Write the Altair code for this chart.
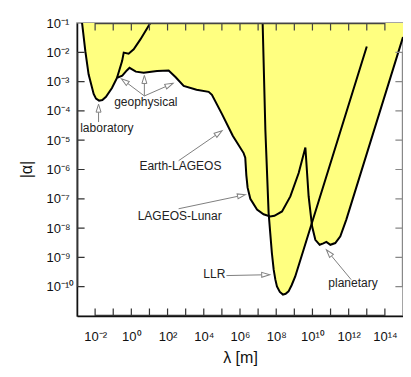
import math
import json
import altair as alt
import pandas as pd

# ---------------- data (log10 values) ----------------
W, H = 326, 293
X_DOM = (-3, 15)     # log10 lambda [m]
Y_DOM = (-11, -1)    # log10 |alpha|

env_lam = [-2.72, -2.54, -2.36, -2.08, -1.95, -1.78, -1.60, -1.40, -1.07, -0.79,
           -0.50, -0.25, -0.10, 0.25, 0.68, 1.10, 1.42, 2.06, 2.45, 2.89,
           3.60, 4.27, 4.45, 5.00, 5.60, 6.20, 6.29, 6.35, 6.42, 6.57,
           6.94, 7.30, 7.67, 7.90, 8.32, 8.78, 9.24, 9.61, 9.79, 9.98,
           10.16, 10.40, 10.60, 10.77, 10.99, 11.26, 11.54, 11.87, 15.0]
env_alpha = [-1.0, -1.96, -2.75, -3.42, -3.58, -3.65, -3.63, -3.52, -3.22, -2.87,
             -2.80, -2.62, -2.53, -2.66, -2.70, -2.66, -2.64, -2.62, -2.85, -3.15,
             -3.28, -3.35, -3.45, -4.10, -4.85, -5.44, -5.60, -6.20, -6.62, -7.00,
             -7.37, -7.53, -7.60, -7.58, -7.43, -6.92, -6.12, -5.25, -6.92, -7.94,
             -8.40, -8.57, -8.52, -8.47, -8.57, -8.51, -8.28, -7.71, -1.48]

lab_lam = [-0.79, -0.51, -0.42, -0.15, 0.13, 0.50, 1.05]
lab_alpha = [-2.87, -2.30, -2.01, -2.05, -1.90, -1.56, -1.0]

llr_lam = [7.25, 7.40, 7.58, 7.67, 7.76, 7.86, 7.95, 8.04, 8.20, 8.37,
           8.52, 8.68, 8.85, 9.05, 9.51, 13.0]
llr_alpha = [-1.0, -4.64, -7.48, -8.17, -8.85, -9.42, -9.75, -9.99, -10.18, -10.27,
             -10.24, -10.16, -9.95, -9.65, -8.74, -1.80]

label_text = ["laboratory", "geophysical", "Earth-LAGEOS", "LAGEOS-Lunar", "LLR", "planetary"]
label_lam = [-1.35, 0.80, 2.71, 2.67, 4.58, 12.24]
label_alpha = [-4.59, -3.71, -5.87, -7.58, -9.58, -9.88]

arrow_tail_lam = [-1.81, 0.72, 0.72, 0.72, 2.61, 2.61, 5.25, 12.14]
arrow_tail_alpha = [-4.38, -3.49, -3.49, -3.49, -5.70, -7.34, -9.62, -9.76]
arrow_tip_lam = [-1.81, -0.55, 0.72, 2.30, 5.01, 6.30, 7.64, 10.77]
arrow_tip_alpha = [-3.77, -2.90, -2.79, -3.06, -4.68, -6.86, -9.59, -8.74]

x_tick_exp = list(range(-2, 15))
y_tick_exp = list(range(-10, -1))
x_label_exp = list(range(-2, 15, 2))
y_label_exp = list(range(-10, 0))

# ---------------- helpers ----------------
SUP = str.maketrans("-0123456789", "⁻⁰¹²³⁴⁵⁶⁷⁸⁹")


def pow_label(e):
    return "10" + str(e).translate(SUP)


all_labels = json.dumps([pow_label(e) for e in range(-12, 17)], ensure_ascii=False)
label_expr = all_labels + "[round(log(datum.value)/LN10)+12]"

FONT = "Liberation Sans"
x_scale = alt.Scale(type="log", domain=[10.0 ** X_DOM[0], 10.0 ** X_DOM[1]], nice=False)
y_scale = alt.Scale(type="log", domain=[10.0 ** Y_DOM[0], 10.0 ** Y_DOM[1]], nice=False)

x_axis = alt.Axis(values=[10.0 ** e for e in x_label_exp], labelExpr=label_expr,
                  ticks=False, tickSize=0, grid=False, domainColor="#111", domainWidth=1.5,
                  labelFont=FONT, labelFontSize=13, labelColor="#111", labelPadding=14,
                  labelFlush=False, labelOverlap=False,
                  title="λ  [m]", titleFont=FONT, titleFontSize=16, titleFontWeight="normal",
                  titleColor="#111", titleY=41, titleBaseline="middle")
y_axis = alt.Axis(values=[10.0 ** e for e in y_label_exp], labelExpr=label_expr,
                  ticks=False, tickSize=0, grid=False, domainColor="#111", domainWidth=1.5,
                  labelFont=FONT, labelFontSize=13, labelColor="#111", labelPadding=31,
                  labelAlign="left", labelBaseline="middle", labelFlush=False, labelOverlap=False,
                  title="|α|", titleFont=FONT, titleFontSize=16, titleFontWeight="normal",
                  titleColor="#111", titleX=-51, titleY=146, titleBaseline="middle",
                  titleAlign="center", titleAngle=270)

X = alt.X("lam:Q", scale=x_scale, axis=x_axis)
Y = alt.Y("alpha:Q", scale=y_scale, axis=y_axis)


def frame(lams, alphas):
    return pd.DataFrame({"lam": [10.0 ** v for v in lams], "alpha": [10.0 ** v for v in alphas]})


env_df = frame(env_lam, env_alpha)
lab_df = frame(lab_lam, lab_alpha)
llr_df = frame(llr_lam, llr_alpha)

YELLOW = "#ffff80"
TOP = 10.0 ** Y_DOM[1]

env_area = alt.Chart(env_df).mark_area(color=YELLOW, opacity=1, clip=True).encode(
    x=X, y=Y, y2=alt.datum(TOP))
llr_area = alt.Chart(llr_df).mark_area(color=YELLOW, opacity=1, clip=True).encode(
    x=X, y=Y, y2=alt.datum(TOP))

line_kw = dict(color="#000", strokeWidth=2, clip=True)
env_line = alt.Chart(env_df).mark_line(**line_kw).encode(x=X, y=Y)
lab_line = alt.Chart(lab_df).mark_line(**line_kw).encode(x=X, y=Y)
llr_line = alt.Chart(llr_df).mark_line(**line_kw).encode(x=X, y=Y)

# ---------------- inward axis ticks as one zig-zag path per side ----------------
PX_X = W / (X_DOM[1] - X_DOM[0])
PX_Y = H / (Y_DOM[1] - Y_DOM[0])
TICK = 7
EPS_X = 0.6 / PX_X
EPS_Y = 0.6 / PX_Y
zz = []
for side, edge, inward in (("b", Y_DOM[0] + EPS_Y, 1), ("t", Y_DOM[1] - EPS_Y, -1)):
    k = 0
    for e in x_tick_exp:
        for a in (edge, edge + inward * TICK / PX_Y, edge):
            zz.append({"lam": 10.0 ** e, "alpha": 10.0 ** a, "side": side, "k": k})
            k += 1
for side, edge, inward in (("l", X_DOM[0] + EPS_X, 1), ("r", X_DOM[1] - EPS_X, -1)):
    k = 0
    for e in y_tick_exp:
        for lv in (edge, edge + inward * TICK / PX_X, edge):
            zz.append({"lam": 10.0 ** lv, "alpha": 10.0 ** e, "side": side, "k": k})
            k += 1
zz_df = pd.DataFrame(zz)
tick_lines = alt.Chart(zz_df).mark_line(strokeWidth=1.2, opacity=1).encode(
    x=X, y=Y, order="k:Q", detail="side:N",
    color=alt.Color("side:N", scale=alt.Scale(domain=["b", "t", "l", "r"],
                                              range=["#333333", "#444444", "#333333", "#888888"]),
                    legend=None))

# ---------------- arrows ----------------
HEAD = 8.0
seg_rows, head_rows = [], []
for tl, ta, hl, ha in zip(arrow_tail_lam, arrow_tail_alpha, arrow_tip_lam, arrow_tip_alpha):
    dxp = (hl - tl) * PX_X
    dyp = -(ha - ta) * PX_Y
    L = math.hypot(dxp, dyp)
    ux, uy = dxp / L, dyp / L
    ang = math.degrees(math.atan2(ux, -uy)) % 360
    cl = hl - (HEAD / 2) * ux / PX_X
    ca = ha + (HEAD / 2) * uy / PX_Y
    bl = hl - HEAD * ux / PX_X
    ba = ha + HEAD * uy / PX_Y
    seg_rows.append({"lam": 10.0 ** tl, "alpha": 10.0 ** ta, "lam2": 10.0 ** bl,
                     "alpha2": 10.0 ** ba})
    head_rows.append({"lam": 10.0 ** cl, "alpha": 10.0 ** ca, "ang": ang})
seg_df = pd.DataFrame(seg_rows)
head_df = pd.DataFrame(head_rows)

shafts = alt.Chart(seg_df).mark_rule(strokeWidth=1, color="#808080").encode(
    x=X, y=Y, x2="lam2:Q", y2="alpha2:Q")
arrow_heads = alt.Chart(head_df).mark_point(
    shape="M0,-1L-0.62,1L0.62,1Z", size=64, filled=True, fill="white",
    stroke="#808080", strokeWidth=1, opacity=1).encode(
    x=X, y=Y, angle=alt.Angle("ang:Q", scale=None))

lab_txt_df = pd.DataFrame({"lam": [10.0 ** v for v in label_lam],
                           "alpha": [10.0 ** v for v in label_alpha],
                           "text": label_text})
labels = alt.Chart(lab_txt_df).mark_text(font=FONT, fontSize=12, color="#222",
                                         align="center", baseline="middle").encode(
    x=X, y=Y, text="text:N")

chart = alt.layer(
    env_area, llr_area, env_line, lab_line, llr_line,
    shafts, arrow_heads, labels, tick_lines
).properties(
    width=W, height=H,
    autosize=alt.AutoSizeParams(type="none"),
    padding={"left": 69, "top": 15, "right": 0, "bottom": 53},
    background="white",
).configure_view(stroke="#888", strokeWidth=1.5)

chart.save("out.html", embed_options={"renderer": "svg", "actions": False})
